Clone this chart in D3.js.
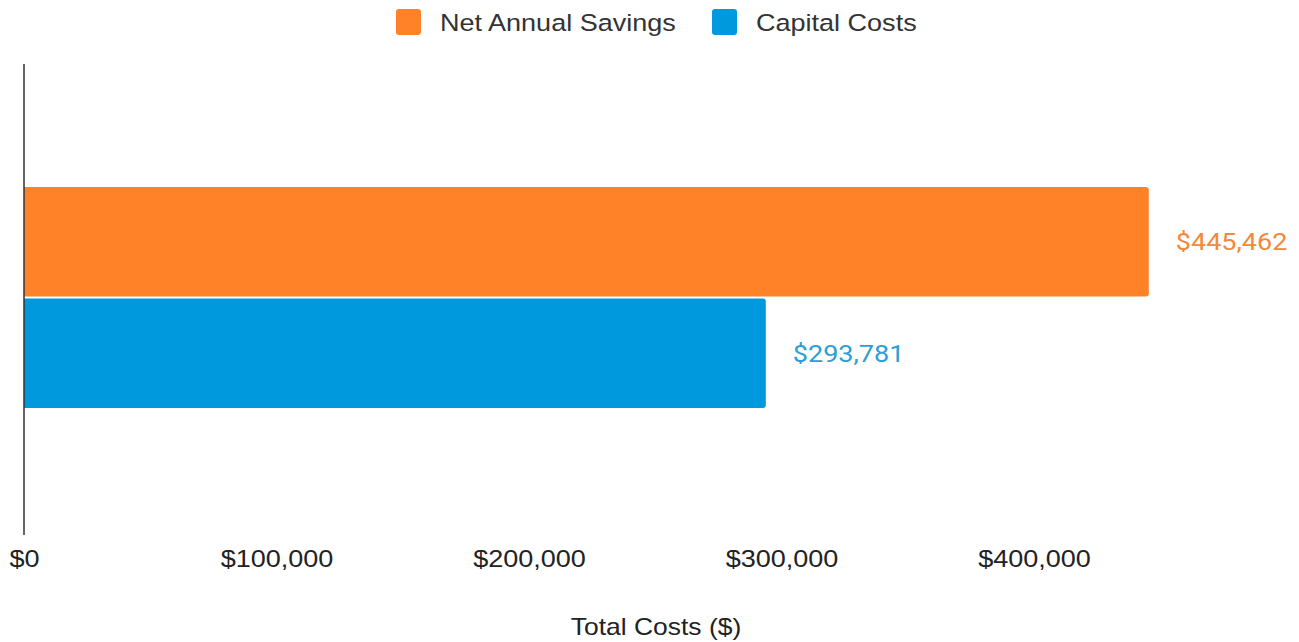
<!DOCTYPE html>
<html>
<head>
<meta charset="utf-8">
<script src="https://cdn.jsdelivr.net/npm/d3@7"></script>
<style>
  body { margin: 0; background: #fff; }
  .tick text { font-family: "Liberation Sans", Arial, sans-serif; }
</style>
</head>
<body>
<div id="chart"></div>
<script>
const categories = ["Total"];
const series = ["Net Annual Savings", "Capital Costs"];
const values = [445462, 293781];
const colors = ["#ff8128", "#0099dd"];
const labelColors = ["#f3893a", "#2a9fd8"];
const tickValues = [0, 100000, 200000, 300000, 400000];

const width = 1299, height = 642;
const margin = {top: 64, right: 150, bottom: 107, left: 24};
const stretch = 1.15; // text in the reference is a bit wider than tall

const svg = d3.select("#chart").append("svg")
    .attr("width", width).attr("height", height);

const x = d3.scaleLinear()
    .domain([0, 100000])
    .range([margin.left, margin.left + 252.5]);

const y0 = d3.scaleBand()
    .domain(categories)
    .range([margin.top - 2, height - margin.bottom - 2])
    .paddingInner(0)
    .paddingOuter(0.566);

const y1 = d3.scaleBand()
    .domain(series)
    .range([0, y0.bandwidth()])
    .paddingInner(0.018);

// bars
const g = svg.append("g");
series.forEach(function(s, i) {
    const yy = y0(categories[0]) + y1(s);
    const w = x(values[i]) - x(0);
    const r = 3;
    g.append("path")
        .attr("fill", colors[i])
        .attr("d", "M" + x(0) + "," + yy +
            "h" + (w - r) + "a" + r + "," + r + " 0 0 1 " + r + "," + r +
            "v" + (y1.bandwidth() - 2 * r) + "a" + r + "," + r + " 0 0 1 " + (-r) + "," + r +
            "h" + (-(w - r)) + "Z");
    const lx = x(values[i]) + 27;
    g.append("text")
        .attr("x", lx)
        .attr("y", yy + y1.bandwidth() / 2 + 0.5)
        .attr("dy", "0.35em")
        .attr("transform", "translate(" + lx + ",0) scale(" + stretch + ",1) translate(" + (-lx) + ",0)")
        .attr("fill", labelColors[i])
        .style("font-family", "Roboto, sans-serif")
        .style("font-size", "23.5px")
        .text(d3.format("$,")(values[i]));
});

// vertical axis line
svg.append("line")
    .attr("x1", x(0)).attr("x2", x(0))
    .attr("y1", margin.top).attr("y2", height - margin.bottom)
    .attr("stroke", "#333").attr("stroke-width", 1.5);

// x axis labels
const xAxis = svg.append("g")
    .attr("transform", "translate(0," + (height - margin.bottom) + ")")
    .call(d3.axisBottom(x).tickValues(tickValues).tickFormat(d3.format("$,")).tickSize(0).tickPadding(0));
xAxis.select(".domain").remove();
xAxis.selectAll("text")
    .attr("dy", null)
    .attr("y", 32)
    .attr("transform", "scale(" + stretch + ",1)")
    .attr("fill", "#222")
    .style("font-size", "23.5px");

svg.append("text")
    .attr("x", 0).attr("y", 635)
    .attr("text-anchor", "middle")
    .attr("transform", "translate(656,0) scale(" + stretch + ",1)")
    .attr("fill", "#222")
    .style("font-family", "'Liberation Sans', Arial, sans-serif")
    .style("font-size", "23px")
    .text("Total Costs ($)");

// legend
const legendX = [396, 712];
series.forEach(function(s, i) {
    const lg = svg.append("g").attr("transform", "translate(" + legendX[i] + ",9)");
    lg.append("rect").attr("width", 25).attr("height", 26).attr("rx", 3)
        .attr("fill", colors[i]);
    lg.append("text").attr("x", 0).attr("y", 22)
        .attr("transform", "translate(44,0) scale(" + stretch + ",1)")
        .attr("fill", "#333")
        .style("font-family", "'Liberation Sans', Arial, sans-serif")
        .style("font-size", "23.5px")
        .text(s);
});
</script>
</body>
</html>
